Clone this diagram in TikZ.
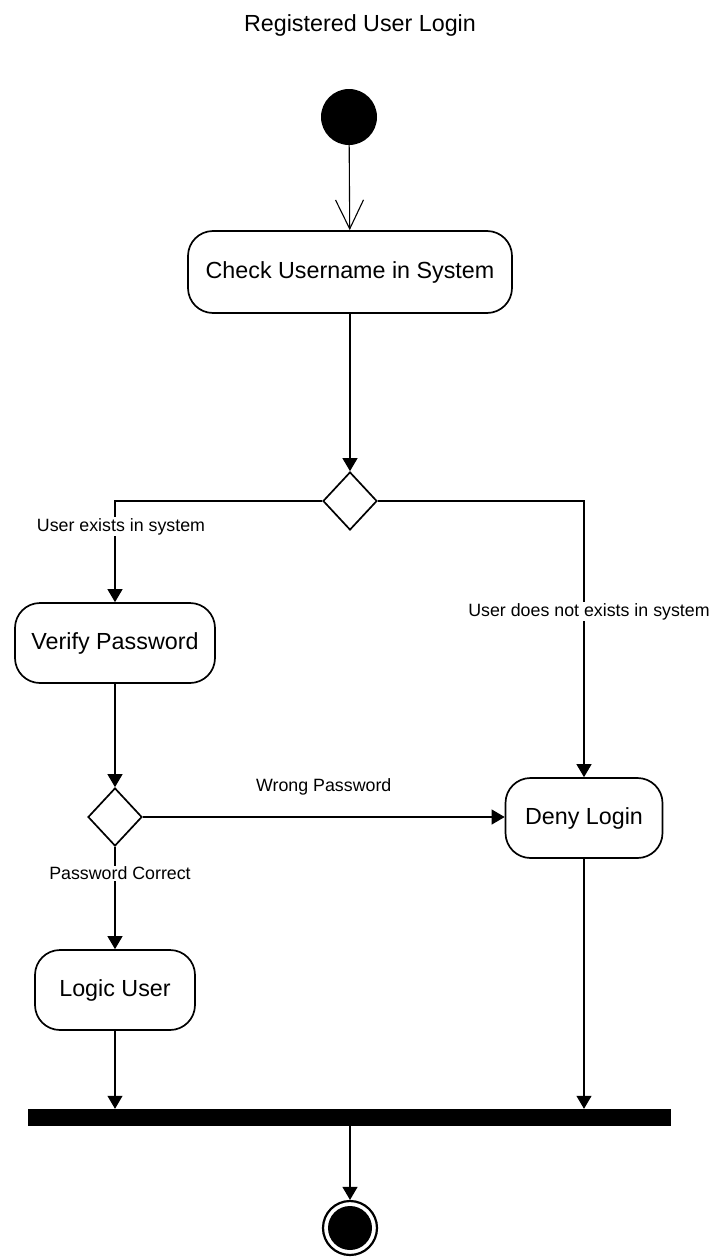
\documentclass[tikz,border=0pt]{standalone}
\usepackage{amsmath}
\usepackage{amssymb}
\usepackage{fontspec}
\setmainfont{Liberation Sans}
\usepackage{tikz}
\usetikzlibrary{positioning,shapes.geometric,arrows.meta}

\begin{document}
\begin{tikzpicture}[x=1pt,y=-1pt,
        activity/.style={draw, rounded corners=25pt, line width=1.7pt, inner sep=0pt,
            font=\fontsize{23.3}{27}\selectfont},
        decision/.style={draw, diamond, line width=1.7pt, inner sep=0pt,
            minimum width=54pt, minimum height=58pt},
        flow/.style={line width=1.1pt, -{Triangle[length=13pt,width=15pt]}},
        guard/.style={fill=white, inner sep=1pt, font=\fontsize{17.8}{21}\selectfont}]
        \newcommand{\barlength}{643pt}
        \newcommand{\barheight}{17pt}
        \useasboundingbox (0,0) rectangle (712,1258);
        \node[font=\fontsize{23.3}{27}\selectfont] (title) at (360,25) {Registered User Login};
        \node[circle, fill, minimum size=56pt, inner sep=0pt] (start) at (349,117) {};
        \node[activity, minimum width=324pt, minimum height=82pt] (check) at (350,272) {Check Username in System};
        \node[decision] (userok) at (350,501) {};
        \node[activity, minimum width=200pt, minimum height=80pt] (verify) at (115,643) {Verify Password};
        \node[activity, minimum width=157pt, minimum height=80pt] (deny) at (584,818) {Deny Login};
        \node[decision] (passok) at (115,817) {};
        \node[activity, minimum width=160pt, minimum height=80pt] (logic) at (115,990) {Logic User};
        \node[fill, minimum width=\barlength, minimum height=\barheight, inner sep=0pt] (join) at (349.5,1117.5) {};
        \node[circle, draw, line width=2.2pt, minimum size=54pt, inner sep=0pt] (endring) at (350,1228) {};
        \node[circle, fill, minimum size=44pt, inner sep=0pt] (end) at (350,1228) {};

        \draw[line width=1.1pt, -{Straight Barb[length=29pt,width=28pt]}] (start) -- (check);
        \draw[flow] (check) -- (userok);
        \draw[flow] (userok.west) -| node[guard, pos=0.627, xshift=6pt] {User exists in system} (verify.north);
        \draw[flow] (userok.east) -| node[guard, pos=0.70, xshift=5pt] {User does not exists in system} (deny.north);
        \draw[flow] (verify) -- (passok);
        \draw[flow] (passok.east) -- node[guard, midway, yshift=30pt] {Wrong Password} (deny.west |- passok.east);
        \draw[flow] (passok) -- node[guard, pos=0.26, xshift=5pt] {Password Correct} (logic);
        \draw[flow] (logic) -- (logic |- join.north);
        \draw[flow] (deny) -- (deny |- join.north);
        \draw[flow] (join.south -| endring) -- (endring.north);
    \end{tikzpicture}
\end{document}
